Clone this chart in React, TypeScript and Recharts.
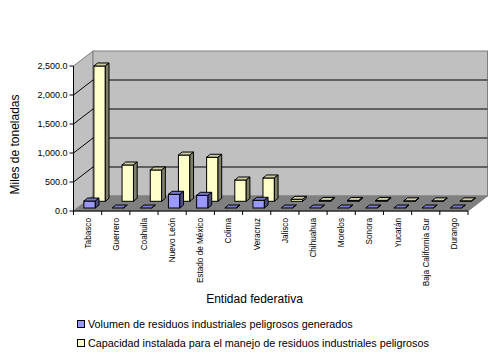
import { BarChart, Bar, XAxis, YAxis, Legend, ReferenceArea, CartesianGrid } from 'recharts'

const ESTADOS = ['Tabasco', 'Guerrero', 'Coahuila', 'Nuevo León', 'Estado de México', 'Colima', 'Veracruz', 'Jalisco', 'Chihuahua', 'Morelos', 'Sonora', 'Yucatán', 'Baja California Sur', 'Durango']
const GENERADOS = [120, 0, 0, 236, 219, 0, 133, 0, 0, 0, 0, 0, 0, 0]
const CAPACIDAD = [2333, 626, 540, 798, 759, 367, 402, 35, 15, 15, 15, 8, 8, 8]
const Y_TICKS = [0, 500, 1000, 1500, 2000, 2500]

const data = ESTADOS.map((estado, i) => ({ estado, generados: GENERADOS[i], capacidad: CAPACIDAD[i] }))

const FONT = '"Liberation Sans", Arial, sans-serif'
// how far the box is pushed back into the fake 3D room
const DEPTH_X = 19.5
const DEPTH_Y = 15

// Excel-style box: front face plus shaded top and side
function box(front: string, top: string, side: string, dx: number, dy: number) {
  return (props: any) => {
    const x = props.x + dx
    const y = props.y - dy
    const w = props.width
    const h = props.height
    const ox = 3.7
    const oy = 3
    return (
      <g stroke="#000" strokeWidth={1}>
        <rect x={x} y={y} width={w} height={h} fill={front} />
        <polygon points={`${x},${y} ${x + ox},${y - oy} ${x + w + ox},${y - oy} ${x + w},${y}`} fill={top} />
        <polygon points={`${x + w},${y} ${x + w + ox},${y - oy} ${x + w + ox},${y + h - oy} ${x + w},${y + h}`} fill={side} />
      </g>
    )
  }
}

function Room(props: any) {
  const { x, y, width, height } = props
  const b = y + height
  const r = x + width
  return (
    <g stroke="#808080" strokeWidth={1}>
      <polygon points={`${x},${y} ${x + DEPTH_X},${y - DEPTH_Y} ${x + DEPTH_X},${b - DEPTH_Y} ${x},${b}`} fill="#c0c0c0" />
      <rect x={x + DEPTH_X} y={y - DEPTH_Y} width={width} height={height} fill="#c0c0c0" />
      <polygon points={`${x},${b} ${x + DEPTH_X},${b - DEPTH_Y} ${r + DEPTH_X},${b - DEPTH_Y} ${r},${b}`} fill="#808080" />
    </g>
  )
}

function GridLine(props: any) {
  const { x1, x2, y1, index } = props
  // top and floor edges are already part of the room
  if (y1 <= 66.5 || y1 >= 210.5) return <g key={index} />
  return (
    <polyline
      key={index}
      points={`${x1},${y1} ${x1 + DEPTH_X},${y1 - DEPTH_Y} ${x2 + DEPTH_X},${y1 - DEPTH_Y}`}
      fill="none"
      stroke="#000"
      strokeWidth={1}
    />
  )
}

function EstadoTick(props: any) {
  const { x, y, payload, index } = props
  const band = 394.5 / ESTADOS.length
  const top = y - 8
  return (
    <g>
      {index === 0 && <line x1={x - band / 2} x2={x - band / 2} y1={top} y2={top + 4} stroke="#000" />}
      <line x1={x + band / 2} x2={x + band / 2} y1={top} y2={top + 4} stroke="#000" />
      <text
        transform={`translate(${x + 3},${top + 7}) rotate(-90)`}
        textAnchor="end"
        fontSize={8.2}
        fontFamily={FONT}
        fill="#000"
      >
        {payload.value}
      </text>
    </g>
  )
}

// the chart overwrites x / y on label elements, so the spot comes in as left / base
function AxisTitle({ left, base, rotate = 0, text }: any) {
  return (
    <text transform={`translate(${left},${base}) rotate(${rotate})`} textAnchor="middle" fontSize={12} fontFamily={FONT} fill="#000">
      {text}
    </text>
  )
}

function Leyenda({ payload }: any) {
  const items = [...(payload ?? [])].reverse()
  return (
    <div style={{ fontFamily: FONT, fontSize: 10.8, color: '#000' }}>
      {items.map((it: any) => (
        <div key={it.value} style={{ display: 'flex', alignItems: 'center', height: 19.5, whiteSpace: 'nowrap' }}>
          <span style={{ width: 6, height: 6, background: it.color, border: '1px solid #000', marginRight: 3 }} />
          {it.value}
        </div>
      ))}
    </div>
  )
}

export default function App() {
  return (
    <div style={{ position: 'absolute', left: 0, top: 0, width: 494, height: 360, background: '#fff' }}>
      <BarChart
        width={494}
        height={360}
        data={data}
        margin={{ top: 66, right: 26, left: 0, bottom: 0 }}
        barSize={11.4}
        barGap={-11.4}
      >
        <ReferenceArea y1={0} y2={2500} shape={<Room />} ifOverflow="visible" zIndex={-200} />
        <CartesianGrid vertical={false} horizontal={(p: any) => <GridLine {...p} />} />
        <XAxis
          dataKey="estado"
          interval={0}
          height={149}
          tickLine={false}
          axisLine={{ stroke: '#000' }}
          tick={<EstadoTick />}
          label={<AxisTitle left={254.5} base={303} text="Entidad federativa" />}
        />
        <YAxis
          width={73.5}
          domain={[0, 2500]}
          ticks={Y_TICKS}
          tickSize={4}
          tickLine={{ stroke: '#000' }}
          axisLine={{ stroke: '#000' }}
          tick={{ fontSize: 9, fontFamily: FONT, fill: '#000' }}
          tickFormatter={(v: number) => v.toLocaleString('en-US', { minimumFractionDigits: 1 })}
          label={<AxisTitle left={19} base={144.5} rotate={-90} text="Miles de toneladas" />}
        />
        <Legend
          layout="vertical"
          align="center"
          verticalAlign="middle"
          content={<Leyenda />}
          wrapperStyle={{ position: 'absolute', left: 77, top: 314, width: 380 }}
        />
        <Bar
          dataKey="capacidad"
          name="Capacidad instalada para el manejo de residuos industriales peligrosos"
          fill="#ffffcc"
          isAnimationActive={false}
          shape={box('#ffffcc', '#cccca3', '#808066', 12.4, 9.7)}
        />
        <Bar
          dataKey="generados"
          name="Volumen de residuos industriales peligrosos generados"
          fill="#9999ff"
          isAnimationActive={false}
          shape={box('#9999ff', '#7a7acc', '#4d4d80', 2.4, 3)}
        />
      </BarChart>
    </div>
  )
}
